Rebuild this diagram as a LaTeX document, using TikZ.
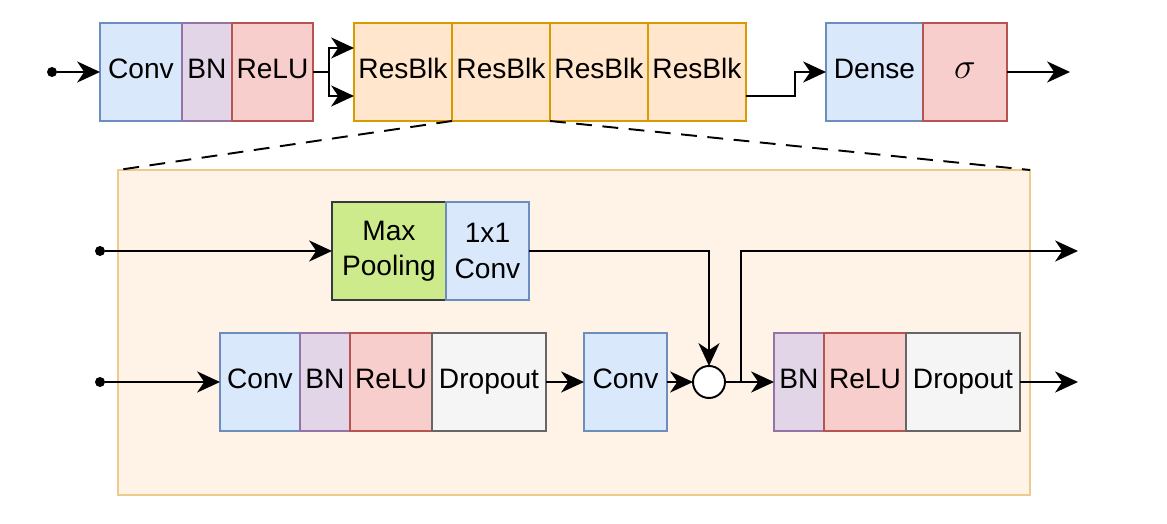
\documentclass[tikz,border=0pt]{standalone}
\usepackage{fontspec}
\setmainfont{Liberation Sans}
\usepackage{xcolor}
\usetikzlibrary{arrows.meta,positioning,calc}

\definecolor{convfill}{HTML}{DAE8FC}\definecolor{convline}{HTML}{6C8EBF}
\definecolor{bnfill}{HTML}{E1D5E7}\definecolor{bnline}{HTML}{9673A6}
\definecolor{relufill}{HTML}{F8CECC}\definecolor{reluline}{HTML}{B85450}
\definecolor{resfill}{HTML}{FFE6CC}\definecolor{resline}{HTML}{D79B00}
\definecolor{dropfill}{HTML}{F5F5F5}\definecolor{dropline}{HTML}{666666}
\definecolor{poolfill}{HTML}{CDEB8B}\definecolor{poolline}{HTML}{36393D}
\definecolor{detailfill}{HTML}{FFF3E8}\definecolor{detailline}{HTML}{EDCB8C}

\begin{document}
\begin{tikzpicture}[
    every node/.style={font=\fontsize{16}{20}\selectfont, inner sep=0pt, outer sep=0pt},
    blk/.style={draw, line width=1pt, minimum height=1.96cm, align=center,
                text height=0.75em, text depth=0pt},
    twoline/.style={text height={}, text depth={}},
    convblk/.style={blk, fill=convfill, draw=convline},
    bnblk/.style={blk, fill=bnfill, draw=bnline, minimum width=1cm},
    relublk/.style={blk, fill=relufill, draw=reluline},
    resblk/.style={blk, fill=resfill, draw=resline, minimum width=1.96cm},
    dropblk/.style={blk, fill=dropfill, draw=dropline, minimum width=2.28cm},
    poolblk/.style={blk, fill=poolfill, draw=poolline, minimum width=2.28cm},
    dot/.style={circle, fill=black, minimum size=0.2cm},
    addnode/.style={circle, draw, line width=1.1pt, fill=white, minimum size=0.64cm},
    arr/.style={-{Stealth[length=13pt,width=12pt,inset=4pt]}, line width=1.1pt},
    wire/.style={line width=1.1pt}
]
    \useasboundingbox (0,0) rectangle (23.34,10.48);

    % ResBlk detail panel
    \node[draw=detailline, fill=detailfill, line width=1pt, anchor=north west,
          minimum width=18.24cm, minimum height=6.5cm] (detail) at (2.36,7.08) {};

    % Stem
    \node[dot] (in1) at (1.04,9.04) {};
    \node[convblk, minimum width=1.64cm, anchor=west] (conv1) at (2.0,9.04) {Conv};
    \node[bnblk, right=0pt of conv1] (bn1) {BN};
    \node[relublk, minimum width=1.62cm, right=0pt of bn1] (relu1) {ReLU};

    % Residual blocks
    \node[resblk, anchor=west] (rb1) at (7.08,9.04) {ResBlk};
    \node[resblk, right=0pt of rb1] (rb2) {ResBlk};
    \node[resblk, right=0pt of rb2] (rb3) {ResBlk};
    \node[resblk, right=0pt of rb3] (rb4) {ResBlk};

    % Head
    \node[convblk, minimum width=1.94cm, anchor=west] (dense) at (16.52,9.04) {Dense};
    \node[relublk, minimum width=1.68cm, right=0pt of dense] (sig) {\fontsize{21}{21}\selectfont$\sigma$};

    % Zoom lines
    \draw[dash pattern=on 9pt off 6pt, line width=1.1pt] (rb1.south east) -- (detail.north west);
    \draw[dash pattern=on 9pt off 6pt, line width=1.1pt] (rb2.south east) -- (detail.north east);

    % Shortcut branch
    \node[dot] (in2) at (2.0,5.46) {};
    \node[poolblk, twoline, anchor=west] (pool) at (6.64,5.46) {Max\\Pooling};
    \node[convblk, twoline, minimum width=1.66cm, right=0pt of pool] (conv11) {1x1\\Conv};

    % Main branch
    \node[dot] (in3) at (2.0,2.84) {};
    \node[convblk, minimum width=1.6cm, anchor=west] (conv2) at (4.4,2.84) {Conv};
    \node[bnblk, right=0pt of conv2] (bn2) {BN};
    \node[relublk, minimum width=1.64cm, right=0pt of bn2] (relu2) {ReLU};
    \node[dropblk, right=0pt of relu2] (drop2) {Dropout};
    \node[convblk, minimum width=1.66cm, anchor=west] (conv3) at (11.68,2.84) {Conv};
    \node[addnode] (add) at (14.18,2.84) {};
    \node[bnblk, anchor=west] (bn3) at (15.48,2.84) {BN};
    \node[relublk, minimum width=1.64cm, right=0pt of bn3] (relu3) {ReLU};
    \node[dropblk, right=0pt of relu3] (drop3) {Dropout};

    % Wiring, top row
    \coordinate (split) at (6.58,9.04);
    \coordinate (jog) at (15.9,8.56);
    \coordinate (out1) at (21.4,9.04);
    \draw[arr] (in1) -- (conv1);
    \draw[wire] (relu1) -- (split);
    \draw[arr] (split) |- ([yshift=0.48cm]rb1.west);
    \draw[arr] (split) |- ([yshift=-0.48cm]rb1.west);
    \draw[arr] (rb4.east |- jog) -- (jog) |- (dense.west);
    \draw[arr] (sig) -- (out1);

    % Wiring, detail
    \coordinate (tap) at (14.82,2.84);
    \coordinate (out2) at (21.56,5.46);
    \coordinate (out3) at (21.56,2.84);
    \draw[arr] (in2) -- (pool);
    \draw[arr] (conv11.east) -| (add.north);
    \draw[arr] (in3) -- (conv2);
    \draw[arr] (drop2) -- (conv3);
    \draw[arr] (conv3) -- (add);
    \draw[arr] (add) -- (bn3);
    \draw[arr] (tap) |- (out2);
    \draw[arr] (drop3) -- (out3);
\end{tikzpicture}
\end{document}
